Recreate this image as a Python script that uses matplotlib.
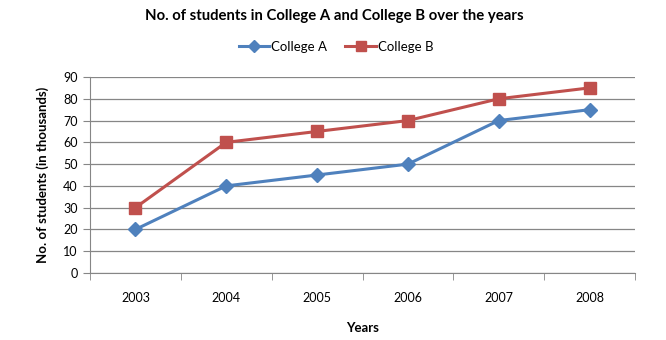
import matplotlib
matplotlib.use("Agg")
import matplotlib.pyplot as plt

years = ["2003", "2004", "2005", "2006", "2007", "2008"]
college_a = [20, 40, 45, 50, 70, 75]
college_b = [30, 60, 65, 70, 80, 85]
y_ticks = [0, 10, 20, 30, 40, 50, 60, 70, 80, 90]

plt.rcParams['font.family'] = ['Lato', 'DejaVu Sans']

W, H = 666, 340
fig = plt.figure(figsize=(W / 100, H / 100), dpi=100)
left, right, top, bottom = 90, 635, 77, 273
ax = fig.add_axes([left / W, 1 - bottom / H, (right - left) / W, (bottom - top) / H])

x = list(range(len(years)))
ax.plot(x, college_a, color="#4F81BD", lw=2.2, marker="D", ms=7.5,
        label="College A", zorder=3)
ax.plot(x, college_b, color="#C0504D", lw=2.2, marker="s", ms=8,
        label="College B", zorder=3)

ax.set_xlim(-0.5, len(years) - 0.5)
ax.set_ylim(0, 90)
ax.set_yticks(y_ticks)
ax.set_yticklabels([str(v) for v in y_ticks], fontsize=9)
ax.set_xticks(x)
ax.set_xticklabels(years, fontsize=9)
ax.set_xticks([i - 0.5 for i in range(len(years) + 1)], minor=True)
ax.tick_params(axis="x", which="major", length=0, pad=14)
ax.tick_params(axis="x", which="minor", length=5, color="#868686")
ax.tick_params(axis="y", length=5, color="#868686", pad=4)

ax.grid(axis="y", color="#868686", lw=0.9)
ax.set_axisbelow(True)
for side in ("top", "right"):
    ax.spines[side].set_visible(False)
for side in ("left", "bottom"):
    ax.spines[side].set_color("#868686")

ax.set_xlabel("Years", fontsize=9.5, fontweight="bold", labelpad=13)
ax.set_ylabel("No. of students (in thousands)", fontsize=9.5, fontweight="bold", labelpad=10)

fig.text(334 / W, 1 - 16 / H, "No. of students in College A and College B over the years",
         ha="center", va="center", fontsize=10.7, fontweight="bold")
fig.legend(loc="center", bbox_to_anchor=(336 / W, 1 - 47 / H), ncol=2, frameon=False,
           fontsize=9.5, handlelength=2.3, columnspacing=1.4, handletextpad=0.15,
           markerscale=0.85)

fig.savefig("out.png", dpi=100)
